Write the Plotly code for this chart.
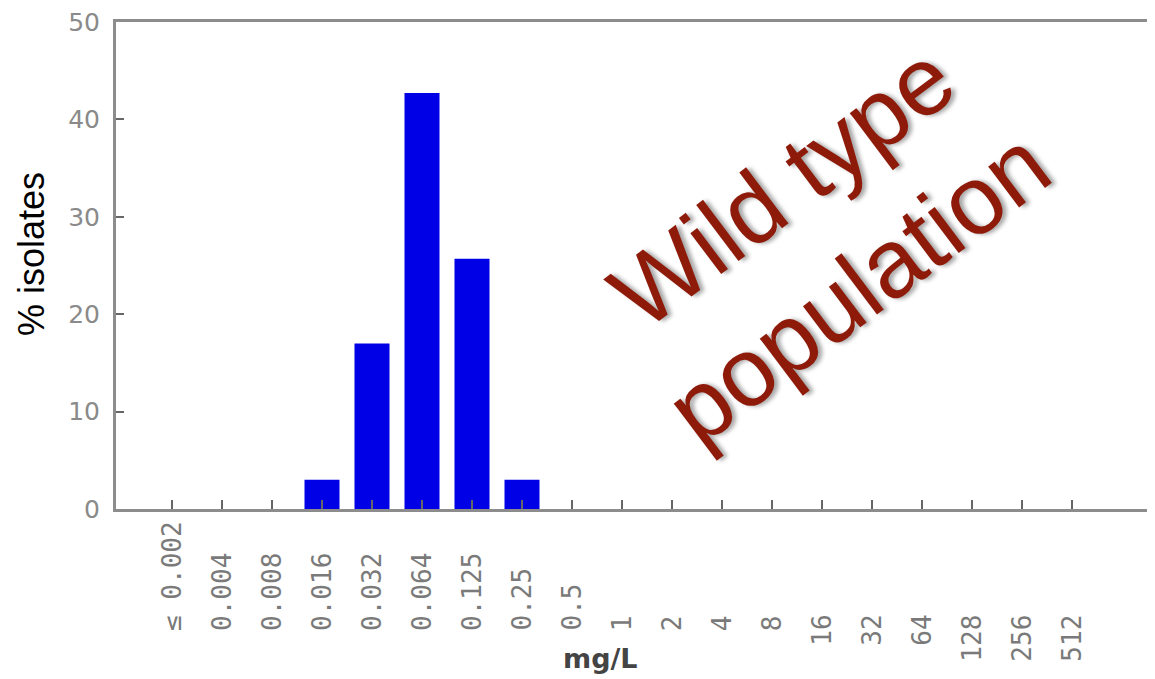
import plotly.graph_objects as go

# ---- data ----
categories = ["≤ 0.002", "0.004", "0.008", "0.016", "0.032", "0.064", "0.125", "0.25",
              "0.5", "1", "2", "4", "8", "16", "32", "64", "128", "256", "512"]
pct_isolates = [0, 0, 0, 3, 17, 42.7, 25.7, 3, 0, 0, 0, 0, 0, 0, 0, 0, 0, 0, 0]
y_ticks = [0, 10, 20, 30, 40, 50]
y_title = "% isolates"
x_title = "mg/L"
overlay_text = "Wild type<br>population"

OFF = 8  # page body offset
W, H = 1155 - OFF, 679 - OFF
ML, MR, MT, MB = 116 - OFF, 0, 18 - OFF, 170
plot_h = H - MT - MB
plot_w = W - ML - MR

def py(px):
    """page pixel row -> paper y"""
    return (H - MB - (px - OFF)) / plot_h

def pxx(px):
    """page pixel column -> paper x"""
    return ((px - OFF) - ML) / plot_w

fig = go.Figure()
fig.add_trace(go.Bar(
    x=list(range(len(categories))), y=pct_isolates,
    marker=dict(color="#0000E6", line=dict(width=0)),
    width=0.7, hoverinfo="skip",
))

axis_col = "#8c8c8c"
fig.update_layout(
    width=W, height=H,
    margin=dict(l=ML, r=MR, t=MT, b=MB),
    paper_bgcolor="white", plot_bgcolor="white",
    showlegend=False,
    xaxis=dict(
        range=[-1.12, 19.66], tickmode="array",
        tickvals=list(range(len(categories))), showticklabels=False,
        ticks="inside", ticklen=9, tickwidth=2, tickcolor="#666",
        showline=True, linecolor=axis_col, linewidth=3, mirror=True,
        showgrid=False, zeroline=False,
    ),
    yaxis=dict(
        range=[0, 50], tickmode="array", tickvals=y_ticks,
        ticks="inside", ticklen=8, tickwidth=2, tickcolor="#666",
        tickfont=dict(family="DejaVu Sans", size=25, color="#8a8a8a"),
        ticklabelstandoff=8, ticklabeloverflow="allow",
        showline=True, linecolor=axis_col, linewidth=3, mirror=False,
        showgrid=False, zeroline=False,
    ),
)

annotations = []
# x tick labels (rotated, reading bottom-to-top)
for i, lab in enumerate(categories):
    if i <= 8:
        yy, anc = py(634), "bottom"
    else:
        yy, anc = py(614), "top"
    annotations.append(dict(
        x=i, xref="x", y=yy, yref="paper", text=lab, showarrow=False,
        textangle=-90, xanchor="center", yanchor=anc,
        font=dict(family="DejaVu Sans Mono", size=26, color="#7a7a7a"),
    ))
# axis titles
annotations.append(dict(
    x=pxx(31), xref="paper", y=py(252), yref="paper",
    text=y_title, showarrow=False, textangle=-90,
    xanchor="center", yanchor="middle",
    font=dict(family="Liberation Sans", size=36, color="black"),
))
annotations.append(dict(
    x=pxx(600), xref="paper", y=py(660), yref="paper",
    text="<b>" + x_title + "</b>", showarrow=False,
    xanchor="center", yanchor="middle",
    font=dict(family="DejaVu Sans", size=27, color="#444"),
))
# overlay text
annotations.append(dict(
    x=pxx(820), xref="paper", y=py(234), yref="paper",
    text=overlay_text, showarrow=False, textangle=-37, align="center",
    xanchor="center", yanchor="middle",
    font=dict(family="Liberation Sans", size=97, color="#8E1A0A",
              shadow="3px 3px 4px rgba(0,0,0,0.35)"),
))
fig.update_layout(annotations=annotations)

fig.write_html("out.html")
